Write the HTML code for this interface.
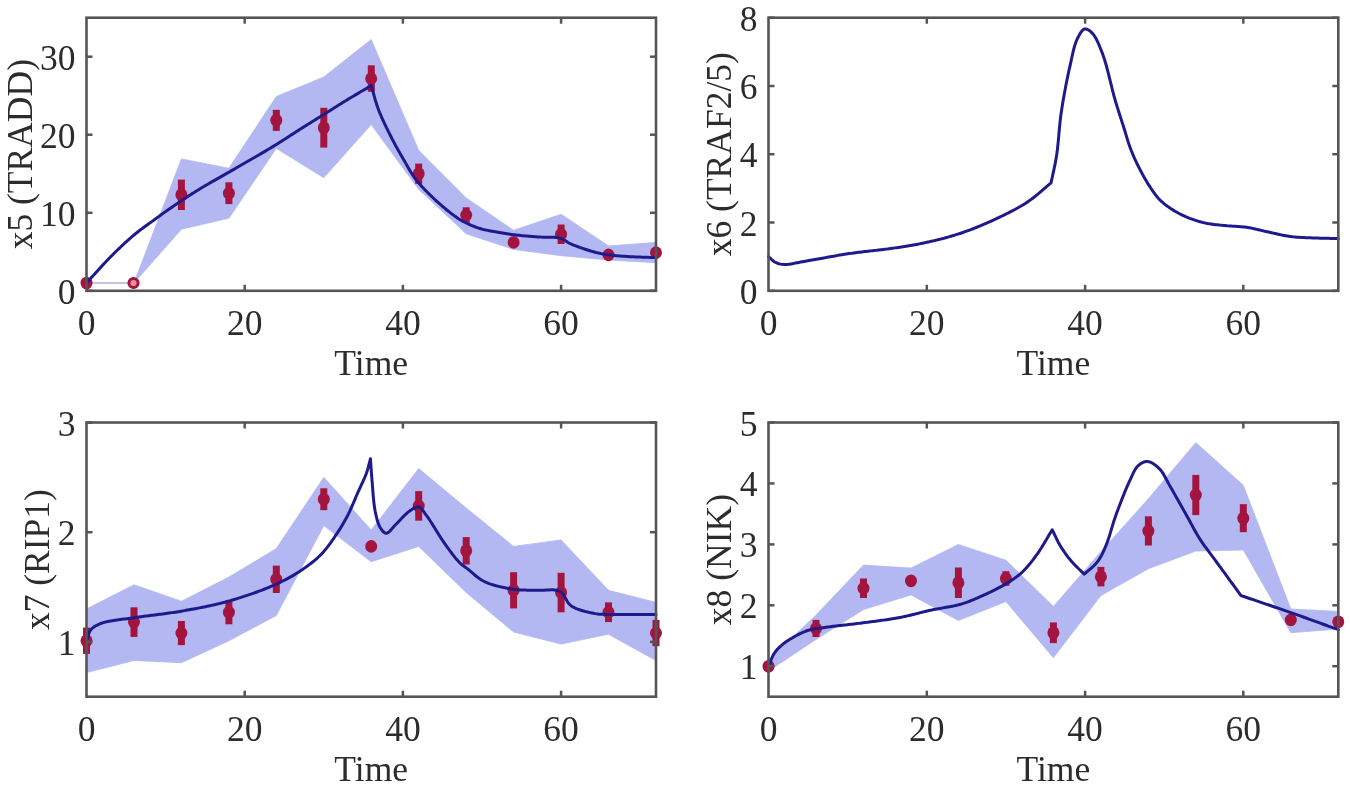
<!DOCTYPE html>
<html><head><meta charset="utf-8"><style>
html,body{margin:0;padding:0;background:#fff;width:1350px;height:785px;overflow:hidden}
svg{display:block;filter:blur(0.45px)}
text{font-family:"Liberation Serif",serif;font-size:35.5px;fill:#2c2c2c}
</style></head><body>
<svg width="1350" height="785" viewBox="0 0 1350 785">
<rect width="1350" height="785" fill="#fff"/>
<clipPath id="clipA1"><rect x="86.5" y="17.7" width="569.5" height="273.1"/></clipPath>
<g clip-path="url(#clipA1)">
<polygon points="86.5,283.0 134.0,283.0 181.4,158.9 228.9,168.3 276.3,96.5 323.8,77.0 371.2,39.5 418.7,150.3 466.2,197.9 513.6,230.3 561.1,214.3 608.5,245.9 656.0,242.4 656.0,262.7 608.5,260.0 561.1,255.7 513.6,249.4 466.2,233.8 418.7,189.4 371.2,124.6 323.8,177.7 276.3,148.4 228.9,218.2 181.4,229.2 134.0,283.0 86.5,283.0" fill="#b3b8f3" stroke="#b3b8f3" stroke-width="0.8"/>
</g>
<line x1="86.5" y1="283.0" x2="134.0" y2="283.0" stroke="#c2c5dc" stroke-width="1.8"/>
<ellipse cx="86.5" cy="283.0" rx="6" ry="6.3" fill="#a3143f"/>
<circle cx="133.5" cy="283.0" r="4.6" fill="#e98c9c" stroke="#a3143f" stroke-width="3"/>
<rect x="177.9" y="179.6" width="7" height="30.4" fill="#a3143f"/>
<ellipse cx="181.4" cy="194.8" rx="6" ry="6.3" fill="#a3143f"/>
<rect x="225.4" y="182.3" width="7" height="21.8" fill="#a3143f"/>
<ellipse cx="228.9" cy="193.3" rx="6" ry="6.3" fill="#a3143f"/>
<rect x="272.8" y="109.8" width="7" height="21.1" fill="#a3143f"/>
<ellipse cx="276.3" cy="120.3" rx="6" ry="6.3" fill="#a3143f"/>
<rect x="320.3" y="107.8" width="7" height="39.8" fill="#a3143f"/>
<ellipse cx="323.8" cy="127.7" rx="6" ry="6.3" fill="#a3143f"/>
<rect x="367.8" y="65.3" width="7" height="26.5" fill="#a3143f"/>
<ellipse cx="371.2" cy="78.6" rx="6" ry="6.3" fill="#a3143f"/>
<rect x="415.2" y="163.6" width="7" height="20.3" fill="#a3143f"/>
<ellipse cx="418.7" cy="173.8" rx="6" ry="6.3" fill="#a3143f"/>
<rect x="462.7" y="207.3" width="7" height="15.6" fill="#a3143f"/>
<ellipse cx="466.2" cy="215.1" rx="6" ry="6.3" fill="#a3143f"/>
<rect x="510.1" y="239.3" width="7" height="6.2" fill="#a3143f"/>
<ellipse cx="513.6" cy="242.4" rx="6" ry="6.3" fill="#a3143f"/>
<rect x="557.6" y="224.5" width="7" height="19.5" fill="#a3143f"/>
<ellipse cx="561.1" cy="234.2" rx="6" ry="6.3" fill="#a3143f"/>
<rect x="605.0" y="252.6" width="7" height="4.7" fill="#a3143f"/>
<ellipse cx="608.5" cy="254.9" rx="6" ry="6.3" fill="#a3143f"/>
<rect x="652.5" y="250.2" width="7" height="4.7" fill="#a3143f"/>
<ellipse cx="656.0" cy="252.6" rx="6" ry="6.3" fill="#a3143f"/>
<path d="M86.50,283.00 L87.53,281.88 L88.56,280.75 L89.59,279.62 L90.62,278.48 L91.64,277.35 L92.67,276.21 L93.69,275.07 L94.72,273.93 L95.74,272.79 L96.77,271.66 L97.79,270.52 L98.82,269.39 L99.85,268.25 L100.88,267.13 L101.91,266.00 L102.94,264.88 L103.97,263.77 L105.01,262.66 L106.05,261.56 L107.09,260.47 L108.13,259.39 L109.18,258.31 L110.23,257.25 L111.34,256.13 L112.46,255.01 L113.58,253.89 L114.71,252.77 L115.84,251.66 L116.98,250.55 L118.12,249.44 L119.26,248.34 L120.40,247.25 L121.54,246.16 L122.68,245.08 L123.82,244.02 L124.96,242.96 L126.10,241.91 L127.24,240.88 L128.37,239.86 L129.50,238.86 L130.62,237.87 L131.74,236.90 L132.85,235.95 L133.96,235.01 L135.22,233.97 L136.46,232.95 L137.71,231.97 L138.94,231.00 L140.17,230.06 L141.39,229.14 L142.62,228.23 L143.84,227.33 L145.06,226.44 L146.29,225.55 L147.51,224.67 L148.74,223.79 L149.98,222.90 L151.22,222.01 L152.47,221.10 L153.73,220.18 L154.96,219.29 L156.19,218.39 L157.42,217.50 L158.65,216.60 L159.88,215.70 L161.12,214.81 L162.36,213.91 L163.60,213.02 L164.85,212.12 L166.10,211.23 L167.36,210.33 L168.63,209.44 L169.91,208.55 L171.19,207.65 L172.48,206.76 L173.78,205.86 L175.09,204.97 L176.34,204.12 L177.61,203.26 L178.87,202.41 L180.15,201.56 L181.43,200.70 L182.71,199.85 L184.00,199.00 L185.30,198.14 L186.61,197.29 L187.92,196.44 L189.24,195.58 L190.56,194.73 L191.89,193.88 L193.23,193.03 L194.57,192.19 L195.92,191.34 L197.27,190.50 L198.64,189.66 L200.00,188.82 L201.27,188.05 L202.54,187.28 L203.83,186.51 L205.14,185.74 L206.45,184.97 L207.77,184.20 L209.10,183.43 L210.43,182.67 L211.77,181.90 L213.11,181.14 L214.46,180.37 L215.80,179.61 L217.14,178.85 L218.48,178.10 L219.81,177.35 L221.14,176.60 L222.45,175.85 L223.76,175.11 L225.06,174.38 L226.35,173.64 L227.62,172.92 L228.88,172.20 L230.25,171.41 L231.61,170.62 L232.97,169.85 L234.31,169.08 L235.64,168.32 L236.96,167.56 L238.28,166.80 L239.59,166.05 L240.89,165.31 L242.19,164.56 L243.49,163.81 L244.79,163.07 L246.08,162.32 L247.38,161.57 L248.68,160.82 L249.98,160.07 L251.29,159.31 L252.60,158.54 L253.92,157.77 L255.25,157.00 L256.57,156.23 L257.89,155.46 L259.21,154.69 L260.53,153.92 L261.85,153.15 L263.17,152.38 L264.49,151.60 L265.81,150.83 L267.13,150.05 L268.45,149.26 L269.76,148.48 L271.08,147.69 L272.39,146.90 L273.71,146.10 L275.02,145.30 L276.33,144.50 L277.66,143.68 L278.98,142.85 L280.30,142.02 L281.62,141.18 L282.94,140.33 L284.26,139.49 L285.58,138.64 L286.89,137.79 L288.21,136.93 L289.52,136.08 L290.84,135.22 L292.16,134.37 L293.47,133.51 L294.79,132.66 L296.11,131.81 L297.42,130.96 L298.74,130.12 L300.06,129.28 L301.38,128.45 L302.70,127.62 L304.01,126.79 L305.33,125.96 L306.65,125.14 L307.97,124.31 L309.28,123.49 L310.60,122.67 L311.92,121.85 L313.24,121.03 L314.56,120.21 L315.88,119.38 L317.20,118.56 L318.52,117.74 L319.84,116.92 L321.15,116.10 L322.47,115.28 L323.79,114.46 L325.11,113.63 L326.43,112.80 L327.74,111.98 L329.06,111.15 L330.38,110.32 L331.69,109.49 L333.01,108.66 L334.33,107.83 L335.65,107.00 L336.96,106.17 L338.28,105.35 L339.60,104.52 L340.92,103.70 L342.24,102.88 L343.56,102.06 L344.88,101.25 L346.20,100.44 L347.52,99.63 L348.83,98.83 L350.15,98.04 L351.47,97.25 L352.78,96.46 L354.10,95.68 L355.42,94.90 L356.74,94.12 L358.06,93.34 L359.37,92.57 L360.69,91.79 L362.01,91.02 L363.33,90.24 L364.65,89.47 L365.97,88.69 L367.29,87.92 L368.61,87.14 L369.93,86.36 L371.25,85.58 L371.69,87.07 L372.11,88.54 L372.53,90.02 L372.93,91.49 L373.34,92.96 L373.74,94.43 L374.14,95.90 L374.55,97.38 L374.97,98.85 L375.40,100.33 L375.84,101.81 L376.30,103.30 L376.78,104.79 L377.28,106.29 L377.81,107.79 L378.37,109.31 L378.89,110.65 L379.43,112.01 L379.99,113.38 L380.56,114.76 L381.16,116.15 L381.77,117.54 L382.39,118.94 L383.02,120.34 L383.67,121.74 L384.32,123.14 L384.98,124.54 L385.65,125.93 L386.32,127.32 L387.00,128.70 L387.67,130.08 L388.35,131.44 L389.03,132.80 L389.70,134.14 L390.36,135.46 L391.02,136.77 L391.75,138.19 L392.47,139.60 L393.20,140.99 L393.93,142.38 L394.67,143.76 L395.40,145.12 L396.15,146.48 L396.89,147.83 L397.64,149.18 L398.38,150.51 L399.14,151.84 L399.89,153.17 L400.64,154.48 L401.40,155.80 L402.16,157.11 L402.92,158.41 L403.68,159.71 L404.49,161.11 L405.28,162.50 L406.06,163.88 L406.83,165.24 L407.59,166.60 L408.36,167.95 L409.13,169.29 L409.92,170.63 L410.73,171.97 L411.56,173.31 L412.43,174.66 L413.33,176.00 L414.28,177.35 L415.28,178.71 L416.34,180.08 L417.22,181.18 L418.15,182.30 L419.11,183.43 L420.11,184.58 L421.14,185.73 L422.19,186.89 L423.28,188.05 L424.38,189.22 L425.50,190.39 L426.65,191.56 L427.80,192.72 L428.96,193.87 L430.14,195.02 L431.31,196.16 L432.49,197.29 L433.67,198.40 L434.85,199.49 L436.01,200.57 L437.17,201.62 L438.32,202.66 L439.45,203.66 L440.56,204.64 L441.65,205.59 L442.88,206.65 L444.10,207.70 L445.32,208.72 L446.54,209.73 L447.75,210.72 L448.96,211.69 L450.17,212.64 L451.38,213.57 L452.58,214.48 L453.79,215.37 L454.99,216.23 L456.19,217.07 L457.40,217.89 L458.60,218.68 L459.80,219.44 L461.01,220.18 L462.21,220.89 L463.70,221.72 L465.20,222.52 L466.71,223.27 L468.21,223.99 L469.72,224.67 L471.22,225.32 L472.72,225.93 L474.21,226.51 L475.68,227.06 L477.14,227.58 L478.59,228.07 L480.01,228.53 L481.59,229.01 L483.12,229.42 L484.63,229.78 L486.12,230.09 L487.60,230.38 L489.11,230.65 L490.64,230.92 L492.21,231.20 L493.85,231.50 L495.23,231.75 L496.62,232.01 L498.05,232.27 L499.49,232.52 L500.95,232.77 L502.44,233.02 L503.94,233.27 L505.45,233.51 L506.98,233.74 L508.53,233.97 L510.08,234.20 L511.65,234.41 L513.23,234.62 L514.68,234.80 L516.16,234.98 L517.66,235.15 L519.18,235.32 L520.71,235.48 L522.26,235.64 L523.82,235.79 L525.38,235.94 L526.95,236.08 L528.51,236.22 L530.08,236.35 L531.64,236.48 L533.18,236.61 L534.72,236.73 L536.24,236.85 L537.75,236.96 L539.39,237.06 L541.04,237.12 L542.72,237.14 L544.40,237.15 L546.09,237.14 L547.76,237.14 L549.42,237.14 L551.05,237.15 L552.66,237.20 L554.22,237.28 L555.73,237.40 L557.19,237.58 L558.58,237.82 L559.90,238.13 L561.48,238.66 L562.90,239.30 L564.21,240.02 L565.46,240.80 L566.70,241.61 L568.00,242.43 L569.41,243.23 L570.97,243.98 L572.24,244.52 L573.59,245.07 L575.01,245.63 L576.49,246.20 L578.02,246.77 L579.58,247.34 L581.18,247.90 L582.78,248.45 L584.40,248.99 L586.00,249.52 L587.59,250.02 L589.14,250.51 L590.65,250.97 L592.12,251.39 L593.51,251.79 L595.12,252.22 L596.67,252.61 L598.17,252.98 L599.64,253.31 L601.10,253.62 L602.55,253.91 L604.00,254.18 L605.48,254.43 L606.99,254.67 L608.54,254.91 L609.98,255.11 L611.41,255.28 L612.86,255.45 L614.31,255.59 L615.77,255.72 L617.25,255.84 L618.75,255.95 L620.28,256.06 L621.84,256.16 L623.43,256.26 L625.06,256.36 L626.73,256.47 L628.11,256.55 L629.52,256.63 L630.97,256.70 L632.44,256.77 L633.94,256.84 L635.46,256.90 L637.01,256.96 L638.57,257.02 L640.14,257.08 L641.73,257.14 L643.32,257.19 L644.92,257.25 L646.52,257.30 L648.12,257.35 L649.72,257.41 L651.31,257.46 L652.88,257.52 L654.45,257.58 L656.00,257.64" fill="none" stroke="#1f1a8c" stroke-width="3" stroke-linejoin="round" stroke-linecap="round"/>
<rect x="86.5" y="17.7" width="569.5" height="273.1" fill="none" stroke="#555555" stroke-width="2.6"/>
<line x1="244.7" y1="290.8" x2="244.7" y2="284.8" stroke="#555555" stroke-width="2.5"/>
<line x1="244.7" y1="17.7" x2="244.7" y2="23.7" stroke="#555555" stroke-width="2.5"/>
<line x1="402.9" y1="290.8" x2="402.9" y2="284.8" stroke="#555555" stroke-width="2.5"/>
<line x1="402.9" y1="17.7" x2="402.9" y2="23.7" stroke="#555555" stroke-width="2.5"/>
<line x1="561.1" y1="290.8" x2="561.1" y2="284.8" stroke="#555555" stroke-width="2.5"/>
<line x1="561.1" y1="17.7" x2="561.1" y2="23.7" stroke="#555555" stroke-width="2.5"/>
<line x1="86.5" y1="290.8" x2="92.5" y2="290.8" stroke="#555555" stroke-width="2.5"/>
<line x1="656.0" y1="290.8" x2="650.0" y2="290.8" stroke="#555555" stroke-width="2.5"/>
<line x1="86.5" y1="212.8" x2="92.5" y2="212.8" stroke="#555555" stroke-width="2.5"/>
<line x1="656.0" y1="212.8" x2="650.0" y2="212.8" stroke="#555555" stroke-width="2.5"/>
<line x1="86.5" y1="134.7" x2="92.5" y2="134.7" stroke="#555555" stroke-width="2.5"/>
<line x1="656.0" y1="134.7" x2="650.0" y2="134.7" stroke="#555555" stroke-width="2.5"/>
<line x1="86.5" y1="56.7" x2="92.5" y2="56.7" stroke="#555555" stroke-width="2.5"/>
<line x1="656.0" y1="56.7" x2="650.0" y2="56.7" stroke="#555555" stroke-width="2.5"/>
<text x="86.5" y="334.8" text-anchor="middle">0</text>
<text x="244.7" y="334.8" text-anchor="middle">20</text>
<text x="402.9" y="334.8" text-anchor="middle">40</text>
<text x="561.1" y="334.8" text-anchor="middle">60</text>
<text x="75.5" y="303.8" text-anchor="end">0</text>
<text x="75.5" y="225.8" text-anchor="end">10</text>
<text x="75.5" y="147.7" text-anchor="end">20</text>
<text x="75.5" y="69.7" text-anchor="end">30</text>
<text x="371.2" y="374.8" text-anchor="middle">Time</text>
<text transform="translate(31.5,154.2) rotate(-90)" text-anchor="middle">x5 (TRADD)</text>
<clipPath id="clipA2"><rect x="768.5" y="17.7" width="569.8" height="273.1"/></clipPath>
<g clip-path="url(#clipA2)">
</g>
<path d="M768.50,256.66 L769.67,257.67 L770.81,258.74 L771.95,259.80 L773.12,260.81 L774.34,261.72 L775.62,262.47 L777.20,263.16 L778.81,263.71 L780.51,264.11 L782.33,264.37 L784.33,264.51 L785.56,264.52 L786.85,264.46 L788.18,264.34 L789.56,264.17 L790.98,263.95 L792.46,263.69 L793.98,263.39 L795.55,263.08 L797.17,262.75 L798.83,262.42 L800.55,262.08 L802.31,261.75 L804.11,261.44 L805.33,261.24 L806.59,261.03 L807.88,260.80 L809.21,260.57 L810.58,260.33 L811.97,260.08 L813.39,259.83 L814.84,259.56 L816.31,259.30 L817.80,259.02 L819.32,258.75 L820.85,258.47 L822.40,258.18 L823.96,257.90 L825.54,257.61 L827.12,257.32 L828.72,257.04 L830.32,256.75 L831.92,256.46 L833.53,256.18 L835.13,255.90 L836.73,255.62 L838.33,255.34 L839.92,255.07 L841.51,254.81 L843.08,254.55 L844.64,254.30 L846.18,254.05 L847.71,253.82 L849.22,253.59 L850.76,253.37 L852.30,253.15 L853.85,252.94 L855.40,252.73 L856.96,252.53 L858.52,252.33 L860.08,252.14 L861.64,251.95 L863.21,251.77 L864.77,251.59 L866.34,251.41 L867.90,251.23 L869.46,251.06 L871.02,250.88 L872.58,250.71 L874.13,250.54 L875.68,250.37 L877.21,250.19 L878.75,250.02 L880.27,249.84 L881.79,249.67 L883.30,249.49 L884.80,249.30 L886.29,249.12 L887.76,248.93 L889.23,248.74 L890.68,248.54 L892.12,248.34 L893.54,248.13 L895.15,247.89 L896.75,247.65 L898.32,247.41 L899.89,247.17 L901.43,246.94 L902.97,246.70 L904.49,246.46 L906.00,246.22 L907.50,245.97 L909.00,245.72 L910.49,245.47 L911.97,245.22 L913.45,244.96 L914.92,244.70 L916.40,244.42 L917.87,244.15 L919.34,243.86 L920.82,243.57 L922.30,243.28 L923.79,242.97 L925.28,242.65 L926.78,242.32 L928.30,241.99 L929.81,241.65 L931.33,241.30 L932.85,240.95 L934.37,240.60 L935.88,240.23 L937.40,239.87 L938.92,239.49 L940.43,239.11 L941.94,238.73 L943.46,238.33 L944.97,237.93 L946.48,237.53 L947.99,237.11 L949.50,236.68 L951.01,236.25 L952.51,235.81 L954.02,235.36 L955.52,234.89 L957.02,234.42 L958.52,233.94 L960.02,233.45 L961.48,232.96 L962.93,232.46 L964.39,231.95 L965.84,231.44 L967.30,230.91 L968.75,230.38 L970.20,229.84 L971.65,229.29 L973.10,228.73 L974.55,228.16 L975.99,227.59 L977.44,227.01 L978.88,226.42 L980.32,225.82 L981.76,225.22 L983.20,224.61 L984.64,223.99 L986.08,223.37 L987.52,222.73 L988.95,222.09 L990.39,221.45 L991.82,220.79 L993.25,220.14 L994.62,219.50 L995.99,218.87 L997.37,218.22 L998.75,217.57 L1000.14,216.91 L1001.53,216.25 L1002.92,215.57 L1004.32,214.90 L1005.71,214.21 L1007.10,213.52 L1008.49,212.82 L1009.87,212.12 L1011.25,211.41 L1012.62,210.69 L1013.99,209.97 L1015.34,209.24 L1016.68,208.50 L1018.02,207.76 L1019.33,207.01 L1020.64,206.26 L1021.92,205.49 L1023.19,204.73 L1024.45,203.95 L1025.68,203.17 L1026.89,202.38 L1028.23,201.48 L1029.54,200.57 L1030.83,199.64 L1032.09,198.70 L1033.34,197.75 L1034.56,196.79 L1035.77,195.81 L1036.97,194.83 L1038.15,193.85 L1039.33,192.86 L1040.49,191.86 L1041.65,190.87 L1042.81,189.87 L1043.97,188.87 L1045.13,187.87 L1046.29,186.87 L1047.46,185.88 L1048.64,184.89 L1049.83,183.90 L1051.03,182.93 L1051.34,181.42 L1051.65,179.93 L1051.97,178.45 L1052.29,176.98 L1052.61,175.52 L1052.93,174.07 L1053.25,172.61 L1053.57,171.15 L1053.89,169.69 L1054.21,168.21 L1054.52,166.72 L1054.83,165.21 L1055.14,163.68 L1055.44,162.13 L1055.73,160.55 L1056.02,158.94 L1056.30,157.30 L1056.57,155.62 L1056.77,154.28 L1056.96,152.92 L1057.14,151.53 L1057.32,150.13 L1057.48,148.71 L1057.65,147.27 L1057.80,145.81 L1057.95,144.34 L1058.10,142.86 L1058.24,141.36 L1058.38,139.85 L1058.52,138.32 L1058.66,136.79 L1058.80,135.25 L1058.94,133.70 L1059.07,132.15 L1059.22,130.59 L1059.36,129.03 L1059.50,127.46 L1059.65,125.89 L1059.81,124.33 L1059.97,122.76 L1060.14,121.20 L1060.31,119.64 L1060.49,118.08 L1060.68,116.53 L1060.88,114.98 L1061.09,113.45 L1061.31,111.92 L1061.54,110.44 L1061.77,108.95 L1062.00,107.44 L1062.24,105.93 L1062.49,104.40 L1062.75,102.87 L1063.01,101.32 L1063.27,99.78 L1063.54,98.23 L1063.81,96.67 L1064.09,95.12 L1064.37,93.56 L1064.66,92.01 L1064.95,90.45 L1065.24,88.91 L1065.53,87.36 L1065.83,85.83 L1066.12,84.30 L1066.42,82.78 L1066.72,81.28 L1067.03,79.78 L1067.33,78.30 L1067.63,76.84 L1067.93,75.39 L1068.23,73.96 L1068.54,72.55 L1068.84,71.16 L1069.13,69.79 L1069.43,68.45 L1069.73,67.13 L1070.02,65.83 L1070.40,64.15 L1070.77,62.47 L1071.13,60.80 L1071.49,59.14 L1071.84,57.51 L1072.19,55.89 L1072.54,54.29 L1072.90,52.73 L1073.26,51.19 L1073.63,49.68 L1074.01,48.21 L1074.40,46.78 L1074.81,45.40 L1075.24,44.05 L1075.68,42.76 L1076.14,41.52 L1076.63,40.33 L1077.14,39.21 L1077.97,37.51 L1078.83,35.81 L1079.72,34.17 L1080.65,32.64 L1081.61,31.30 L1082.60,30.20 L1083.62,29.40 L1084.66,28.97 L1086.10,28.96 L1087.62,29.49 L1089.18,30.42 L1090.71,31.65 L1092.18,33.06 L1092.94,33.91 L1093.68,34.86 L1094.42,35.91 L1095.13,37.05 L1095.84,38.27 L1096.53,39.57 L1097.22,40.94 L1097.89,42.37 L1098.56,43.85 L1099.22,45.38 L1099.88,46.96 L1100.53,48.57 L1101.18,50.21 L1101.82,51.87 L1102.47,53.54 L1102.90,54.71 L1103.33,55.92 L1103.76,57.18 L1104.19,58.48 L1104.61,59.82 L1105.03,61.20 L1105.44,62.60 L1105.86,64.04 L1106.27,65.51 L1106.67,67.00 L1107.08,68.51 L1107.48,70.04 L1107.88,71.58 L1108.28,73.14 L1108.67,74.71 L1109.07,76.28 L1109.46,77.86 L1109.84,79.43 L1110.23,81.01 L1110.62,82.58 L1111.00,84.14 L1111.38,85.70 L1111.76,87.23 L1112.14,88.76 L1112.52,90.26 L1112.89,91.74 L1113.27,93.19 L1113.64,94.61 L1114.01,96.01 L1114.39,97.37 L1114.76,98.69 L1115.13,99.97 L1115.61,101.60 L1116.09,103.21 L1116.57,104.79 L1117.04,106.34 L1117.52,107.87 L1117.99,109.37 L1118.45,110.86 L1118.92,112.32 L1119.38,113.77 L1119.84,115.20 L1120.30,116.62 L1120.75,118.02 L1121.20,119.41 L1121.65,120.80 L1122.09,122.17 L1122.53,123.54 L1122.97,124.90 L1123.40,126.26 L1123.83,127.62 L1124.33,129.22 L1124.82,130.80 L1125.29,132.36 L1125.75,133.91 L1126.20,135.43 L1126.65,136.94 L1127.10,138.44 L1127.55,139.93 L1128.02,141.42 L1128.49,142.89 L1128.98,144.37 L1129.48,145.84 L1130.01,147.31 L1130.56,148.79 L1131.13,150.26 L1131.72,151.73 L1132.32,153.19 L1132.93,154.65 L1133.56,156.11 L1134.20,157.56 L1134.85,159.01 L1135.51,160.44 L1136.18,161.88 L1136.86,163.30 L1137.55,164.72 L1138.25,166.13 L1138.95,167.54 L1139.66,168.93 L1140.37,170.29 L1141.09,171.66 L1141.81,173.03 L1142.55,174.39 L1143.30,175.75 L1144.05,177.10 L1144.82,178.45 L1145.59,179.78 L1146.37,181.09 L1147.15,182.39 L1147.94,183.67 L1148.74,184.92 L1149.54,186.16 L1150.35,187.36 L1151.26,188.72 L1152.15,190.05 L1153.04,191.35 L1153.93,192.63 L1154.83,193.89 L1155.75,195.12 L1156.70,196.34 L1157.70,197.53 L1158.74,198.71 L1159.85,199.87 L1161.03,201.02 L1162.08,201.98 L1163.18,202.93 L1164.32,203.88 L1165.50,204.81 L1166.71,205.73 L1167.96,206.64 L1169.23,207.54 L1170.53,208.42 L1171.85,209.28 L1173.19,210.12 L1174.54,210.94 L1175.90,211.74 L1177.27,212.52 L1178.65,213.27 L1180.02,213.99 L1181.36,214.67 L1182.73,215.33 L1184.11,215.97 L1185.51,216.60 L1186.93,217.20 L1188.37,217.79 L1189.81,218.36 L1191.27,218.91 L1192.73,219.43 L1194.20,219.94 L1195.67,220.43 L1197.14,220.89 L1198.61,221.33 L1200.07,221.75 L1201.53,222.15 L1202.97,222.53 L1204.55,222.90 L1206.13,223.24 L1207.71,223.54 L1209.30,223.80 L1210.88,224.04 L1212.47,224.26 L1214.06,224.46 L1215.65,224.64 L1217.23,224.80 L1218.82,224.96 L1220.40,225.12 L1221.98,225.27 L1223.56,225.43 L1225.13,225.60 L1226.67,225.75 L1228.20,225.88 L1229.73,226.00 L1231.25,226.09 L1232.78,226.18 L1234.30,226.27 L1235.82,226.35 L1237.35,226.44 L1238.87,226.53 L1240.39,226.64 L1241.91,226.77 L1243.44,226.92 L1244.97,227.10 L1246.50,227.30 L1247.97,227.53 L1249.45,227.79 L1250.92,228.07 L1252.40,228.37 L1253.88,228.68 L1255.36,229.01 L1256.84,229.35 L1258.32,229.69 L1259.80,230.05 L1261.28,230.40 L1262.76,230.75 L1264.23,231.10 L1265.71,231.44 L1267.19,231.77 L1268.66,232.08 L1270.22,232.42 L1271.77,232.76 L1273.33,233.11 L1274.88,233.46 L1276.43,233.82 L1277.99,234.17 L1279.54,234.51 L1281.09,234.85 L1282.64,235.18 L1284.19,235.49 L1285.75,235.78 L1287.30,236.05 L1288.86,236.30 L1290.42,236.52 L1291.96,236.71 L1293.50,236.88 L1295.04,237.03 L1296.57,237.15 L1298.10,237.26 L1299.63,237.35 L1301.17,237.44 L1302.71,237.51 L1304.26,237.58 L1305.81,237.64 L1307.38,237.70 L1308.97,237.76 L1310.57,237.82 L1312.18,237.89 L1313.66,237.95 L1315.15,238.01 L1316.65,238.06 L1318.16,238.11 L1319.69,238.15 L1321.22,238.19 L1322.77,238.23 L1324.32,238.26 L1325.87,238.30 L1327.43,238.33 L1328.99,238.36 L1330.55,238.39 L1332.10,238.43 L1333.66,238.46 L1335.21,238.49 L1336.76,238.53 L1338.30,238.57" fill="none" stroke="#1f1a8c" stroke-width="3" stroke-linejoin="round" stroke-linecap="round"/>
<rect x="768.5" y="17.7" width="569.8" height="273.1" fill="none" stroke="#555555" stroke-width="2.6"/>
<line x1="926.8" y1="290.8" x2="926.8" y2="284.8" stroke="#555555" stroke-width="2.5"/>
<line x1="926.8" y1="17.7" x2="926.8" y2="23.7" stroke="#555555" stroke-width="2.5"/>
<line x1="1085.1" y1="290.8" x2="1085.1" y2="284.8" stroke="#555555" stroke-width="2.5"/>
<line x1="1085.1" y1="17.7" x2="1085.1" y2="23.7" stroke="#555555" stroke-width="2.5"/>
<line x1="1243.3" y1="290.8" x2="1243.3" y2="284.8" stroke="#555555" stroke-width="2.5"/>
<line x1="1243.3" y1="17.7" x2="1243.3" y2="23.7" stroke="#555555" stroke-width="2.5"/>
<line x1="768.5" y1="290.8" x2="774.5" y2="290.8" stroke="#555555" stroke-width="2.5"/>
<line x1="1338.3" y1="290.8" x2="1332.3" y2="290.8" stroke="#555555" stroke-width="2.5"/>
<line x1="768.5" y1="222.5" x2="774.5" y2="222.5" stroke="#555555" stroke-width="2.5"/>
<line x1="1338.3" y1="222.5" x2="1332.3" y2="222.5" stroke="#555555" stroke-width="2.5"/>
<line x1="768.5" y1="154.2" x2="774.5" y2="154.2" stroke="#555555" stroke-width="2.5"/>
<line x1="1338.3" y1="154.2" x2="1332.3" y2="154.2" stroke="#555555" stroke-width="2.5"/>
<line x1="768.5" y1="86.0" x2="774.5" y2="86.0" stroke="#555555" stroke-width="2.5"/>
<line x1="1338.3" y1="86.0" x2="1332.3" y2="86.0" stroke="#555555" stroke-width="2.5"/>
<line x1="768.5" y1="17.7" x2="774.5" y2="17.7" stroke="#555555" stroke-width="2.5"/>
<line x1="1338.3" y1="17.7" x2="1332.3" y2="17.7" stroke="#555555" stroke-width="2.5"/>
<text x="768.5" y="334.8" text-anchor="middle">0</text>
<text x="926.8" y="334.8" text-anchor="middle">20</text>
<text x="1085.1" y="334.8" text-anchor="middle">40</text>
<text x="1243.3" y="334.8" text-anchor="middle">60</text>
<text x="757.5" y="303.8" text-anchor="end">0</text>
<text x="757.5" y="235.5" text-anchor="end">2</text>
<text x="757.5" y="167.2" text-anchor="end">4</text>
<text x="757.5" y="99.0" text-anchor="end">6</text>
<text x="757.5" y="30.7" text-anchor="end">8</text>
<text x="1053.4" y="374.8" text-anchor="middle">Time</text>
<text transform="translate(731.2,154.2) rotate(-90)" text-anchor="middle">x6 (TRAF2/5)</text>
<clipPath id="clipA3"><rect x="86.5" y="422.5" width="569.5" height="274.2"/></clipPath>
<g clip-path="url(#clipA3)">
<polygon points="86.5,609.0 134.0,584.8 181.4,601.3 228.9,577.1 276.3,548.6 323.8,477.3 371.2,530.0 418.7,468.6 466.2,508.1 513.6,546.4 561.1,539.9 608.5,590.3 656.0,602.4 656.0,660.5 608.5,634.2 561.1,644.1 513.6,632.0 466.2,592.5 418.7,546.4 371.2,561.8 323.8,525.6 276.3,615.5 228.9,640.8 181.4,662.7 134.0,660.5 86.5,672.6" fill="#b3b8f3" stroke="#b3b8f3" stroke-width="0.8"/>
</g>
<rect x="83.0" y="627.6" width="7" height="26.3" fill="#a3143f"/>
<ellipse cx="86.5" cy="640.8" rx="6" ry="6.3" fill="#a3143f"/>
<rect x="130.5" y="607.3" width="7" height="29.6" fill="#a3143f"/>
<ellipse cx="134.0" cy="622.1" rx="6" ry="6.3" fill="#a3143f"/>
<rect x="177.9" y="621.0" width="7" height="24.1" fill="#a3143f"/>
<ellipse cx="181.4" cy="633.1" rx="6" ry="6.3" fill="#a3143f"/>
<rect x="225.4" y="600.2" width="7" height="24.1" fill="#a3143f"/>
<ellipse cx="228.9" cy="612.2" rx="6" ry="6.3" fill="#a3143f"/>
<rect x="272.8" y="565.6" width="7" height="27.4" fill="#a3143f"/>
<ellipse cx="276.3" cy="579.3" rx="6" ry="6.3" fill="#a3143f"/>
<rect x="320.3" y="488.3" width="7" height="21.9" fill="#a3143f"/>
<ellipse cx="323.8" cy="499.3" rx="6" ry="6.3" fill="#a3143f"/>
<rect x="367.8" y="543.1" width="7" height="6.6" fill="#a3143f"/>
<ellipse cx="371.2" cy="546.4" rx="6" ry="6.3" fill="#a3143f"/>
<rect x="415.2" y="491.1" width="7" height="29.6" fill="#a3143f"/>
<ellipse cx="418.7" cy="505.9" rx="6" ry="6.3" fill="#a3143f"/>
<rect x="462.7" y="537.1" width="7" height="27.4" fill="#a3143f"/>
<ellipse cx="466.2" cy="550.8" rx="6" ry="6.3" fill="#a3143f"/>
<rect x="510.1" y="572.2" width="7" height="36.2" fill="#a3143f"/>
<ellipse cx="513.6" cy="590.3" rx="6" ry="6.3" fill="#a3143f"/>
<rect x="557.6" y="572.8" width="7" height="39.5" fill="#a3143f"/>
<ellipse cx="561.1" cy="592.5" rx="6" ry="6.3" fill="#a3143f"/>
<rect x="605.0" y="602.4" width="7" height="19.7" fill="#a3143f"/>
<ellipse cx="608.5" cy="612.2" rx="6" ry="6.3" fill="#a3143f"/>
<rect x="652.5" y="619.9" width="7" height="26.3" fill="#a3143f"/>
<ellipse cx="656.0" cy="633.1" rx="6" ry="6.3" fill="#a3143f"/>
<path d="M86.50,640.76 L87.07,639.16 L87.57,637.50 L88.05,635.83 L88.57,634.18 L89.18,632.60 L89.92,631.13 L90.85,629.80 L91.84,628.73 L92.91,627.76 L94.08,626.87 L95.35,626.05 L96.73,625.29 L98.21,624.58 L99.81,623.89 L101.53,623.21 L102.66,622.82 L103.86,622.44 L105.12,622.10 L106.45,621.77 L107.82,621.47 L109.25,621.18 L110.72,620.91 L112.24,620.66 L113.79,620.42 L115.38,620.18 L117.00,619.96 L118.64,619.74 L120.31,619.53 L121.99,619.32 L123.69,619.11 L125.40,618.90 L127.12,618.68 L128.83,618.46 L130.55,618.23 L132.26,617.98 L133.96,617.73 L135.35,617.52 L136.76,617.31 L138.19,617.11 L139.64,616.90 L141.10,616.70 L142.58,616.50 L144.07,616.31 L145.58,616.11 L147.09,615.92 L148.62,615.72 L150.15,615.53 L151.70,615.33 L153.25,615.14 L154.81,614.94 L156.38,614.74 L157.95,614.55 L159.52,614.34 L161.10,614.14 L162.68,613.94 L164.26,613.73 L165.84,613.52 L167.42,613.30 L168.99,613.08 L170.57,612.86 L172.14,612.63 L173.70,612.40 L175.26,612.16 L176.81,611.92 L178.36,611.67 L179.89,611.41 L181.42,611.15 L182.93,610.88 L184.45,610.62 L185.96,610.35 L187.48,610.08 L188.99,609.81 L190.50,609.54 L192.02,609.27 L193.53,608.99 L195.04,608.71 L196.55,608.43 L198.06,608.14 L199.57,607.85 L201.08,607.56 L202.59,607.26 L204.09,606.96 L205.60,606.66 L207.10,606.34 L208.61,606.03 L210.11,605.70 L211.61,605.37 L213.12,605.04 L214.62,604.70 L216.12,604.35 L217.62,603.99 L219.11,603.63 L220.61,603.26 L222.11,602.88 L223.60,602.49 L225.10,602.10 L226.59,601.69 L228.08,601.28 L229.56,600.86 L231.05,600.43 L232.55,599.99 L234.06,599.55 L235.58,599.09 L237.10,598.62 L238.62,598.15 L240.16,597.67 L241.69,597.18 L243.22,596.69 L244.76,596.19 L246.29,595.68 L247.82,595.16 L249.35,594.65 L250.87,594.12 L252.39,593.59 L253.90,593.06 L255.40,592.52 L256.88,591.98 L258.36,591.44 L259.83,590.89 L261.28,590.35 L262.71,589.80 L264.13,589.24 L265.54,588.69 L266.92,588.14 L268.28,587.59 L269.62,587.03 L270.94,586.48 L272.24,585.93 L273.51,585.38 L274.75,584.83 L276.34,584.11 L277.89,583.40 L279.41,582.68 L280.90,581.97 L282.36,581.25 L283.79,580.53 L285.20,579.81 L286.59,579.09 L287.95,578.35 L289.30,577.62 L290.62,576.87 L291.94,576.12 L293.23,575.36 L294.52,574.59 L295.80,573.81 L297.07,573.02 L298.33,572.22 L299.59,571.40 L300.85,570.57 L302.17,569.68 L303.48,568.79 L304.79,567.88 L306.08,566.97 L307.36,566.05 L308.63,565.12 L309.88,564.17 L311.12,563.22 L312.34,562.25 L313.55,561.28 L314.73,560.29 L315.90,559.29 L317.05,558.28 L318.18,557.26 L319.28,556.23 L320.36,555.18 L321.42,554.12 L322.52,552.96 L323.59,551.79 L324.62,550.60 L325.63,549.39 L326.62,548.17 L327.58,546.94 L328.53,545.69 L329.45,544.43 L330.37,543.17 L331.26,541.89 L332.15,540.61 L333.03,539.33 L333.91,538.04 L334.78,536.76 L335.66,535.47 L336.52,534.20 L337.37,532.92 L338.20,531.64 L339.03,530.35 L339.85,529.07 L340.66,527.77 L341.46,526.47 L342.25,525.16 L343.03,523.85 L343.80,522.52 L344.56,521.18 L345.31,519.84 L346.06,518.48 L346.79,517.11 L347.52,515.73 L348.23,514.35 L348.92,512.95 L349.60,511.53 L350.27,510.10 L350.93,508.65 L351.58,507.19 L352.22,505.72 L352.86,504.25 L353.49,502.78 L354.11,501.31 L354.73,499.85 L355.35,498.39 L355.96,496.94 L356.58,495.51 L357.19,494.09 L357.80,492.70 L358.46,491.23 L359.12,489.77 L359.80,488.32 L360.47,486.86 L361.14,485.42 L361.81,483.98 L362.47,482.56 L363.12,481.14 L363.75,479.74 L364.35,478.35 L364.94,476.97 L365.49,475.62 L366.02,474.27 L366.50,472.95 L367.07,471.29 L367.58,469.66 L368.04,468.06 L368.46,466.49 L368.86,464.93 L369.25,463.38 L369.64,461.83 L370.04,460.27 L370.46,458.69 L370.57,460.25 L370.68,461.80 L370.78,463.33 L370.88,464.86 L370.98,466.38 L371.08,467.90 L371.19,469.43 L371.29,470.97 L371.40,472.53 L371.52,474.10 L371.64,475.69 L371.76,477.31 L371.90,478.95 L372.04,480.63 L372.16,482.06 L372.28,483.54 L372.40,485.05 L372.52,486.60 L372.63,488.18 L372.75,489.78 L372.88,491.40 L373.00,493.02 L373.13,494.66 L373.27,496.29 L373.41,497.91 L373.57,499.53 L373.73,501.12 L373.90,502.70 L374.08,504.24 L374.28,505.75 L374.49,507.22 L374.71,508.65 L374.95,510.02 L375.20,511.34 L375.57,513.08 L375.94,514.81 L376.32,516.50 L376.72,518.15 L377.15,519.76 L377.59,521.31 L378.07,522.78 L378.58,524.18 L379.12,525.49 L379.71,526.69 L380.35,527.79 L381.38,529.37 L382.51,530.85 L383.71,532.10 L384.97,532.96 L386.28,533.28 L387.35,533.03 L388.46,532.36 L389.61,531.36 L390.79,530.11 L392.00,528.71 L393.24,527.24 L394.50,525.81 L395.77,524.50 L396.82,523.48 L397.89,522.38 L399.00,521.21 L400.12,520.02 L401.26,518.80 L402.41,517.58 L403.56,516.38 L404.71,515.21 L405.86,514.11 L407.00,513.08 L408.12,512.15 L409.22,511.34 L410.85,510.20 L412.49,509.08 L414.12,508.09 L415.71,507.34 L417.25,506.92 L418.71,506.95 L419.94,507.43 L421.07,508.28 L422.15,509.44 L423.20,510.84 L424.27,512.40 L425.40,514.05 L426.62,515.73 L427.34,516.69 L428.09,517.74 L428.86,518.85 L429.65,520.03 L430.46,521.26 L431.29,522.55 L432.13,523.87 L432.98,525.24 L433.85,526.63 L434.73,528.05 L435.61,529.48 L436.50,530.92 L437.39,532.36 L438.28,533.80 L439.18,535.23 L440.07,536.63 L440.95,538.01 L441.83,539.36 L442.70,540.67 L443.57,541.94 L444.41,543.15 L445.39,544.52 L446.38,545.90 L447.38,547.29 L448.38,548.67 L449.39,550.06 L450.40,551.42 L451.41,552.77 L452.41,554.10 L453.41,555.38 L454.39,556.63 L455.35,557.83 L456.30,558.98 L457.22,560.07 L458.12,561.08 L459.00,562.03 L459.84,562.89 L461.31,564.25 L462.65,565.31 L463.96,566.24 L465.36,567.21 L466.96,568.37 L467.95,569.16 L468.98,570.01 L470.06,570.93 L471.17,571.90 L472.33,572.91 L473.53,573.94 L474.76,574.98 L476.03,576.03 L477.33,577.05 L478.67,578.05 L480.05,579.02 L481.45,579.93 L482.89,580.77 L484.36,581.54 L485.66,582.15 L487.02,582.73 L488.42,583.29 L489.87,583.82 L491.35,584.32 L492.86,584.81 L494.40,585.27 L495.97,585.70 L497.55,586.12 L499.14,586.51 L500.74,586.89 L502.34,587.24 L503.94,587.57 L505.53,587.89 L507.12,588.19 L508.68,588.47 L510.23,588.73 L511.74,588.98 L513.23,589.21 L514.81,589.44 L516.38,589.62 L517.94,589.76 L519.50,589.88 L521.05,589.97 L522.59,590.03 L524.13,590.08 L525.67,590.11 L527.19,590.13 L528.72,590.14 L530.23,590.15 L531.74,590.16 L533.25,590.18 L534.76,590.21 L536.25,590.25 L537.75,590.31 L539.39,590.35 L541.06,590.33 L542.76,590.26 L544.46,590.17 L546.17,590.06 L547.87,589.97 L549.54,589.89 L551.19,589.85 L552.80,589.87 L554.36,589.97 L555.86,590.15 L557.29,590.44 L558.64,590.85 L559.90,591.41 L561.09,592.18 L562.14,593.14 L563.07,594.25 L563.92,595.49 L564.71,596.81 L565.46,598.19 L566.22,599.59 L567.00,600.97 L567.84,602.30 L568.76,603.55 L569.80,604.68 L570.97,605.67 L572.18,606.46 L573.48,607.21 L574.87,607.91 L576.33,608.56 L577.86,609.17 L579.43,609.74 L581.03,610.27 L582.65,610.77 L584.28,611.22 L585.91,611.65 L587.52,612.04 L589.10,612.41 L590.63,612.74 L592.11,613.05 L593.51,613.34 L595.08,613.64 L596.55,613.86 L597.94,614.02 L599.30,614.14 L600.66,614.22 L602.05,614.27 L603.49,614.31 L605.04,614.34 L606.71,614.38 L608.54,614.44 L609.67,614.48 L610.85,614.51 L612.08,614.54 L613.36,614.56 L614.69,614.58 L616.05,614.60 L617.46,614.61 L618.90,614.62 L620.38,614.62 L621.88,614.62 L623.42,614.62 L624.98,614.62 L626.56,614.62 L628.17,614.61 L629.79,614.60 L631.43,614.59 L633.08,614.58 L634.74,614.57 L636.41,614.55 L638.08,614.54 L639.75,614.53 L641.43,614.51 L643.10,614.50 L644.76,614.49 L646.41,614.48 L648.06,614.47 L649.68,614.46 L651.29,614.45 L652.89,614.44 L654.46,614.44 L656.00,614.44" fill="none" stroke="#1f1a8c" stroke-width="3" stroke-linejoin="round" stroke-linecap="round"/>
<rect x="86.5" y="422.5" width="569.5" height="274.2" fill="none" stroke="#555555" stroke-width="2.6"/>
<line x1="244.7" y1="696.7" x2="244.7" y2="690.7" stroke="#555555" stroke-width="2.5"/>
<line x1="244.7" y1="422.5" x2="244.7" y2="428.5" stroke="#555555" stroke-width="2.5"/>
<line x1="402.9" y1="696.7" x2="402.9" y2="690.7" stroke="#555555" stroke-width="2.5"/>
<line x1="402.9" y1="422.5" x2="402.9" y2="428.5" stroke="#555555" stroke-width="2.5"/>
<line x1="561.1" y1="696.7" x2="561.1" y2="690.7" stroke="#555555" stroke-width="2.5"/>
<line x1="561.1" y1="422.5" x2="561.1" y2="428.5" stroke="#555555" stroke-width="2.5"/>
<line x1="86.5" y1="641.9" x2="92.5" y2="641.9" stroke="#555555" stroke-width="2.5"/>
<line x1="656.0" y1="641.9" x2="650.0" y2="641.9" stroke="#555555" stroke-width="2.5"/>
<line x1="86.5" y1="532.2" x2="92.5" y2="532.2" stroke="#555555" stroke-width="2.5"/>
<line x1="656.0" y1="532.2" x2="650.0" y2="532.2" stroke="#555555" stroke-width="2.5"/>
<line x1="86.5" y1="422.5" x2="92.5" y2="422.5" stroke="#555555" stroke-width="2.5"/>
<line x1="656.0" y1="422.5" x2="650.0" y2="422.5" stroke="#555555" stroke-width="2.5"/>
<text x="86.5" y="740.7" text-anchor="middle">0</text>
<text x="244.7" y="740.7" text-anchor="middle">20</text>
<text x="402.9" y="740.7" text-anchor="middle">40</text>
<text x="561.1" y="740.7" text-anchor="middle">60</text>
<text x="75.5" y="654.9" text-anchor="end">1</text>
<text x="75.5" y="545.2" text-anchor="end">2</text>
<text x="75.5" y="435.5" text-anchor="end">3</text>
<text x="371.2" y="780.7" text-anchor="middle">Time</text>
<text transform="translate(49.2,559.6) rotate(-90)" text-anchor="middle">x7 (RIP1)</text>
<clipPath id="clipA4"><rect x="768.5" y="422.5" width="569.8" height="274.2"/></clipPath>
<g clip-path="url(#clipA4)">
<polygon points="768.5,660.1 816.0,615.0 863.5,565.1 911.0,568.1 958.4,544.4 1005.9,560.2 1053.4,606.5 1100.9,551.7 1148.4,498.7 1195.8,442.6 1243.3,485.3 1290.8,609.0 1338.3,611.4 1338.3,629.1 1290.8,632.7 1243.3,549.9 1195.8,551.1 1148.4,568.7 1100.9,595.6 1053.4,657.7 1005.9,601.6 958.4,620.5 911.0,594.9 863.5,609.6 816.0,639.4 768.5,671.1" fill="#b3b8f3" stroke="#b3b8f3" stroke-width="0.8"/>
</g>
<rect x="765.0" y="665.0" width="7" height="2.4" fill="#a3143f"/>
<ellipse cx="768.5" cy="666.2" rx="6" ry="6.3" fill="#a3143f"/>
<rect x="812.5" y="619.9" width="7" height="17.1" fill="#a3143f"/>
<ellipse cx="816.0" cy="628.5" rx="6" ry="6.3" fill="#a3143f"/>
<rect x="860.0" y="578.5" width="7" height="19.5" fill="#a3143f"/>
<ellipse cx="863.5" cy="588.2" rx="6" ry="6.3" fill="#a3143f"/>
<rect x="907.5" y="577.9" width="7" height="6.1" fill="#a3143f"/>
<ellipse cx="911.0" cy="580.9" rx="6" ry="6.3" fill="#a3143f"/>
<rect x="954.9" y="567.5" width="7" height="30.5" fill="#a3143f"/>
<ellipse cx="958.4" cy="582.8" rx="6" ry="6.3" fill="#a3143f"/>
<rect x="1002.4" y="571.2" width="7" height="14.6" fill="#a3143f"/>
<ellipse cx="1005.9" cy="578.5" rx="6" ry="6.3" fill="#a3143f"/>
<rect x="1049.9" y="622.4" width="7" height="20.7" fill="#a3143f"/>
<ellipse cx="1053.4" cy="632.7" rx="6" ry="6.3" fill="#a3143f"/>
<rect x="1097.4" y="566.9" width="7" height="19.5" fill="#a3143f"/>
<ellipse cx="1100.9" cy="576.7" rx="6" ry="6.3" fill="#a3143f"/>
<rect x="1144.9" y="516.3" width="7" height="29.2" fill="#a3143f"/>
<ellipse cx="1148.4" cy="531.0" rx="6" ry="6.3" fill="#a3143f"/>
<rect x="1192.3" y="474.9" width="7" height="40.2" fill="#a3143f"/>
<ellipse cx="1195.8" cy="495.0" rx="6" ry="6.3" fill="#a3143f"/>
<rect x="1239.8" y="504.2" width="7" height="28.0" fill="#a3143f"/>
<ellipse cx="1243.3" cy="518.2" rx="6" ry="6.3" fill="#a3143f"/>
<rect x="1287.3" y="616.9" width="7" height="6.1" fill="#a3143f"/>
<ellipse cx="1290.8" cy="619.9" rx="6" ry="6.3" fill="#a3143f"/>
<rect x="1334.8" y="618.7" width="7" height="6.1" fill="#a3143f"/>
<ellipse cx="1338.3" cy="621.8" rx="6" ry="6.3" fill="#a3143f"/>
<path d="M768.50,666.23 L769.16,664.72 L769.78,663.18 L770.40,661.63 L771.01,660.07 L771.64,658.53 L772.29,657.02 L773.00,655.56 L773.76,654.15 L774.59,652.83 L775.54,651.52 L776.55,650.28 L777.60,649.09 L778.71,647.95 L779.86,646.85 L781.05,645.78 L782.27,644.73 L783.54,643.69 L784.79,642.71 L786.11,641.75 L787.47,640.82 L788.86,639.91 L790.29,639.02 L791.73,638.17 L793.17,637.34 L794.61,636.54 L796.04,635.77 L797.39,635.05 L798.72,634.36 L800.05,633.69 L801.38,633.04 L802.73,632.43 L804.10,631.84 L805.51,631.28 L806.96,630.76 L808.47,630.28 L809.80,629.91 L811.15,629.57 L812.51,629.27 L813.90,629.01 L815.31,628.76 L816.75,628.54 L818.22,628.33 L819.74,628.12 L821.30,627.91 L822.90,627.70 L824.56,627.48 L826.27,627.24 L827.57,627.05 L828.92,626.87 L830.30,626.69 L831.72,626.51 L833.17,626.33 L834.66,626.15 L836.17,625.97 L837.70,625.79 L839.26,625.61 L840.84,625.43 L842.44,625.25 L844.05,625.07 L845.67,624.89 L847.30,624.71 L848.93,624.53 L850.57,624.34 L852.21,624.16 L853.84,623.97 L855.47,623.77 L857.09,623.58 L858.71,623.38 L860.30,623.18 L861.88,622.97 L863.39,622.77 L864.90,622.58 L866.41,622.38 L867.94,622.18 L869.47,621.99 L871.01,621.79 L872.55,621.59 L874.10,621.39 L875.65,621.19 L877.20,620.98 L878.75,620.78 L880.30,620.57 L881.84,620.36 L883.38,620.14 L884.92,619.93 L886.46,619.70 L887.99,619.48 L889.51,619.25 L891.02,619.01 L892.53,618.77 L894.02,618.53 L895.50,618.28 L896.97,618.02 L898.43,617.76 L899.87,617.49 L901.42,617.19 L902.95,616.87 L904.46,616.55 L905.97,616.22 L907.46,615.87 L908.95,615.53 L910.42,615.17 L911.89,614.81 L913.35,614.45 L914.80,614.08 L916.25,613.71 L917.70,613.34 L919.14,612.97 L920.58,612.61 L922.02,612.24 L923.47,611.88 L924.91,611.53 L926.36,611.18 L927.81,610.83 L929.27,610.50 L930.73,610.17 L932.27,609.85 L933.81,609.54 L935.36,609.24 L936.91,608.95 L938.47,608.67 L940.04,608.40 L941.60,608.13 L943.17,607.87 L944.73,607.60 L946.29,607.33 L947.84,607.06 L949.38,606.78 L950.91,606.49 L952.43,606.20 L953.94,605.89 L955.43,605.56 L956.90,605.22 L958.36,604.86 L959.79,604.48 L961.20,604.08 L962.75,603.61 L964.27,603.12 L965.76,602.62 L967.24,602.10 L968.69,601.56 L970.13,601.01 L971.56,600.45 L972.97,599.87 L974.37,599.29 L975.77,598.69 L977.17,598.08 L978.56,597.47 L979.95,596.85 L981.34,596.22 L982.75,595.58 L984.15,594.94 L985.59,594.28 L987.04,593.62 L988.50,592.94 L989.95,592.25 L991.42,591.55 L992.88,590.84 L994.33,590.13 L995.78,589.40 L997.21,588.67 L998.64,587.93 L1000.04,587.18 L1001.43,586.43 L1002.79,585.67 L1004.13,584.91 L1005.43,584.14 L1006.71,583.36 L1008.05,582.53 L1009.37,581.70 L1010.66,580.88 L1011.92,580.06 L1013.16,579.23 L1014.38,578.38 L1015.58,577.53 L1016.77,576.65 L1017.94,575.75 L1019.10,574.81 L1020.25,573.85 L1021.40,572.84 L1022.54,571.79 L1023.61,570.74 L1024.68,569.67 L1025.72,568.56 L1026.76,567.42 L1027.79,566.25 L1028.80,565.06 L1029.80,563.84 L1030.80,562.60 L1031.78,561.35 L1032.76,560.07 L1033.73,558.78 L1034.70,557.48 L1035.66,556.16 L1036.62,554.84 L1037.57,553.51 L1038.43,552.29 L1039.28,551.05 L1040.11,549.78 L1040.94,548.50 L1041.77,547.20 L1042.58,545.89 L1043.39,544.56 L1044.20,543.22 L1045.00,541.88 L1045.80,540.53 L1046.60,539.17 L1047.40,537.81 L1048.20,536.46 L1048.99,535.10 L1049.79,533.75 L1050.60,532.41 L1051.40,531.07 L1052.21,529.74 L1052.90,531.12 L1053.57,532.50 L1054.23,533.89 L1054.89,535.28 L1055.54,536.67 L1056.20,538.05 L1056.87,539.44 L1057.56,540.81 L1058.26,542.18 L1058.99,543.53 L1059.74,544.87 L1060.52,546.19 L1061.35,547.52 L1062.19,548.84 L1063.06,550.15 L1063.95,551.46 L1064.85,552.75 L1065.78,554.03 L1066.71,555.31 L1067.67,556.56 L1068.64,557.81 L1069.61,559.03 L1070.60,560.24 L1071.60,561.43 L1072.59,562.57 L1073.61,563.68 L1074.64,564.77 L1075.69,565.85 L1076.75,566.91 L1077.82,567.96 L1078.90,569.00 L1079.98,570.04 L1081.06,571.07 L1082.13,572.12 L1083.20,573.16 L1084.26,574.22 L1085.40,573.17 L1086.56,572.14 L1087.74,571.12 L1088.93,570.11 L1090.12,569.09 L1091.29,568.07 L1092.46,567.04 L1093.59,565.99 L1094.70,564.91 L1095.76,563.79 L1096.77,562.63 L1097.72,561.43 L1098.62,560.17 L1099.47,558.88 L1100.27,557.58 L1101.03,556.24 L1101.75,554.88 L1102.45,553.49 L1103.12,552.06 L1103.79,550.60 L1104.44,549.10 L1105.09,547.57 L1105.75,545.99 L1106.42,544.37 L1106.93,543.10 L1107.43,541.80 L1107.91,540.46 L1108.38,539.10 L1108.84,537.71 L1109.30,536.29 L1109.75,534.85 L1110.20,533.40 L1110.64,531.92 L1111.08,530.42 L1111.53,528.92 L1111.98,527.40 L1112.43,525.87 L1112.90,524.34 L1113.37,522.80 L1113.85,521.26 L1114.34,519.72 L1114.85,518.18 L1115.38,516.64 L1115.92,515.12 L1116.42,513.75 L1116.94,512.34 L1117.47,510.91 L1118.01,509.45 L1118.56,507.97 L1119.13,506.47 L1119.70,504.96 L1120.28,503.44 L1120.87,501.92 L1121.46,500.39 L1122.06,498.87 L1122.66,497.34 L1123.26,495.83 L1123.86,494.33 L1124.46,492.85 L1125.06,491.39 L1125.66,489.95 L1126.25,488.54 L1126.83,487.17 L1127.41,485.82 L1127.99,484.52 L1128.55,483.26 L1129.10,482.05 L1129.64,480.89 L1130.16,479.78 L1130.98,478.05 L1131.75,476.37 L1132.48,474.75 L1133.20,473.20 L1133.92,471.73 L1134.65,470.33 L1135.42,469.04 L1136.24,467.83 L1137.12,466.74 L1138.08,465.76 L1139.49,464.58 L1141.01,463.51 L1142.61,462.63 L1144.25,461.96 L1145.92,461.57 L1147.58,461.50 L1148.87,461.70 L1150.20,462.11 L1151.56,462.71 L1152.93,463.48 L1154.30,464.38 L1155.65,465.39 L1156.97,466.48 L1158.24,467.63 L1159.45,468.81 L1160.36,469.79 L1161.22,470.85 L1162.05,471.97 L1162.85,473.16 L1163.63,474.41 L1164.38,475.70 L1165.12,477.04 L1165.86,478.42 L1166.60,479.83 L1167.35,481.26 L1168.11,482.70 L1168.88,484.16 L1169.69,485.63 L1170.53,487.09 L1171.24,488.31 L1171.97,489.57 L1172.71,490.86 L1173.47,492.18 L1174.24,493.52 L1175.01,494.88 L1175.80,496.26 L1176.59,497.65 L1177.38,499.06 L1178.18,500.48 L1178.98,501.90 L1179.78,503.32 L1180.58,504.74 L1181.37,506.16 L1182.16,507.57 L1182.95,508.98 L1183.73,510.37 L1184.50,511.74 L1185.26,513.09 L1186.01,514.42 L1186.75,515.73 L1187.55,517.15 L1188.33,518.56 L1189.09,519.95 L1189.84,521.33 L1190.57,522.70 L1191.30,524.06 L1192.03,525.41 L1192.76,526.75 L1193.49,528.09 L1194.22,529.43 L1194.96,530.77 L1195.72,532.11 L1196.49,533.45 L1197.28,534.79 L1198.10,536.15 L1198.94,537.51 L1199.81,538.88 L1200.61,540.11 L1201.42,541.34 L1202.25,542.57 L1203.10,543.80 L1203.96,545.03 L1204.84,546.26 L1205.73,547.49 L1206.62,548.73 L1207.53,549.96 L1208.45,551.20 L1209.37,552.44 L1210.30,553.68 L1211.24,554.93 L1212.18,556.18 L1213.13,557.44 L1214.07,558.70 L1215.02,559.96 L1215.97,561.23 L1216.91,562.51 L1217.86,563.79 L1218.80,565.08 L1219.65,566.26 L1220.51,567.44 L1221.38,568.63 L1222.25,569.83 L1223.12,571.03 L1224.00,572.24 L1224.88,573.45 L1225.76,574.66 L1226.65,575.88 L1227.54,577.11 L1228.43,578.33 L1229.32,579.56 L1230.22,580.79 L1231.12,582.02 L1232.01,583.25 L1232.91,584.49 L1233.81,585.72 L1234.71,586.96 L1235.60,588.19 L1236.50,589.42 L1237.40,590.65 L1238.29,591.88 L1239.18,593.11 L1240.07,594.33 L1240.96,595.55 L1242.38,596.04 L1243.81,596.53 L1245.24,597.01 L1246.66,597.50 L1248.09,597.98 L1249.52,598.47 L1250.95,598.96 L1252.38,599.44 L1253.81,599.93 L1255.24,600.41 L1256.67,600.90 L1258.11,601.39 L1259.54,601.87 L1260.97,602.36 L1262.40,602.84 L1263.83,603.33 L1265.26,603.81 L1266.69,604.30 L1268.12,604.79 L1269.54,605.27 L1270.97,605.76 L1272.40,606.25 L1273.82,606.73 L1275.25,607.22 L1276.67,607.71 L1278.09,608.20 L1279.51,608.69 L1280.93,609.18 L1282.35,609.66 L1283.76,610.15 L1285.18,610.65 L1286.59,611.14 L1288.00,611.63 L1289.41,612.12 L1290.82,612.61 L1292.27,613.12 L1293.73,613.64 L1295.18,614.15 L1296.63,614.66 L1298.08,615.18 L1299.53,615.69 L1300.97,616.21 L1302.42,616.72 L1303.86,617.24 L1305.30,617.76 L1306.74,618.27 L1308.18,618.79 L1309.62,619.31 L1311.05,619.82 L1312.49,620.34 L1313.92,620.86 L1315.36,621.38 L1316.79,621.90 L1318.22,622.42 L1319.66,622.94 L1321.09,623.45 L1322.52,623.97 L1323.95,624.49 L1325.38,625.01 L1326.82,625.53 L1328.25,626.05 L1329.68,626.57 L1331.12,627.08 L1332.55,627.60 L1333.99,628.12 L1335.42,628.64 L1336.86,629.16 L1338.30,629.67" fill="none" stroke="#1f1a8c" stroke-width="3" stroke-linejoin="round" stroke-linecap="round"/>
<rect x="768.5" y="422.5" width="569.8" height="274.2" fill="none" stroke="#555555" stroke-width="2.6"/>
<line x1="926.8" y1="696.7" x2="926.8" y2="690.7" stroke="#555555" stroke-width="2.5"/>
<line x1="926.8" y1="422.5" x2="926.8" y2="428.5" stroke="#555555" stroke-width="2.5"/>
<line x1="1085.1" y1="696.7" x2="1085.1" y2="690.7" stroke="#555555" stroke-width="2.5"/>
<line x1="1085.1" y1="422.5" x2="1085.1" y2="428.5" stroke="#555555" stroke-width="2.5"/>
<line x1="1243.3" y1="696.7" x2="1243.3" y2="690.7" stroke="#555555" stroke-width="2.5"/>
<line x1="1243.3" y1="422.5" x2="1243.3" y2="428.5" stroke="#555555" stroke-width="2.5"/>
<line x1="768.5" y1="666.2" x2="774.5" y2="666.2" stroke="#555555" stroke-width="2.5"/>
<line x1="1338.3" y1="666.2" x2="1332.3" y2="666.2" stroke="#555555" stroke-width="2.5"/>
<line x1="768.5" y1="605.3" x2="774.5" y2="605.3" stroke="#555555" stroke-width="2.5"/>
<line x1="1338.3" y1="605.3" x2="1332.3" y2="605.3" stroke="#555555" stroke-width="2.5"/>
<line x1="768.5" y1="544.4" x2="774.5" y2="544.4" stroke="#555555" stroke-width="2.5"/>
<line x1="1338.3" y1="544.4" x2="1332.3" y2="544.4" stroke="#555555" stroke-width="2.5"/>
<line x1="768.5" y1="483.4" x2="774.5" y2="483.4" stroke="#555555" stroke-width="2.5"/>
<line x1="1338.3" y1="483.4" x2="1332.3" y2="483.4" stroke="#555555" stroke-width="2.5"/>
<line x1="768.5" y1="422.5" x2="774.5" y2="422.5" stroke="#555555" stroke-width="2.5"/>
<line x1="1338.3" y1="422.5" x2="1332.3" y2="422.5" stroke="#555555" stroke-width="2.5"/>
<text x="768.5" y="740.7" text-anchor="middle">0</text>
<text x="926.8" y="740.7" text-anchor="middle">20</text>
<text x="1085.1" y="740.7" text-anchor="middle">40</text>
<text x="1243.3" y="740.7" text-anchor="middle">60</text>
<text x="757.5" y="679.2" text-anchor="end">1</text>
<text x="757.5" y="618.3" text-anchor="end">2</text>
<text x="757.5" y="557.4" text-anchor="end">3</text>
<text x="757.5" y="496.4" text-anchor="end">4</text>
<text x="757.5" y="435.5" text-anchor="end">5</text>
<text x="1053.4" y="780.7" text-anchor="middle">Time</text>
<text transform="translate(731.2,559.6) rotate(-90)" text-anchor="middle">x8 (NIK)</text>
</svg>
</body></html>
